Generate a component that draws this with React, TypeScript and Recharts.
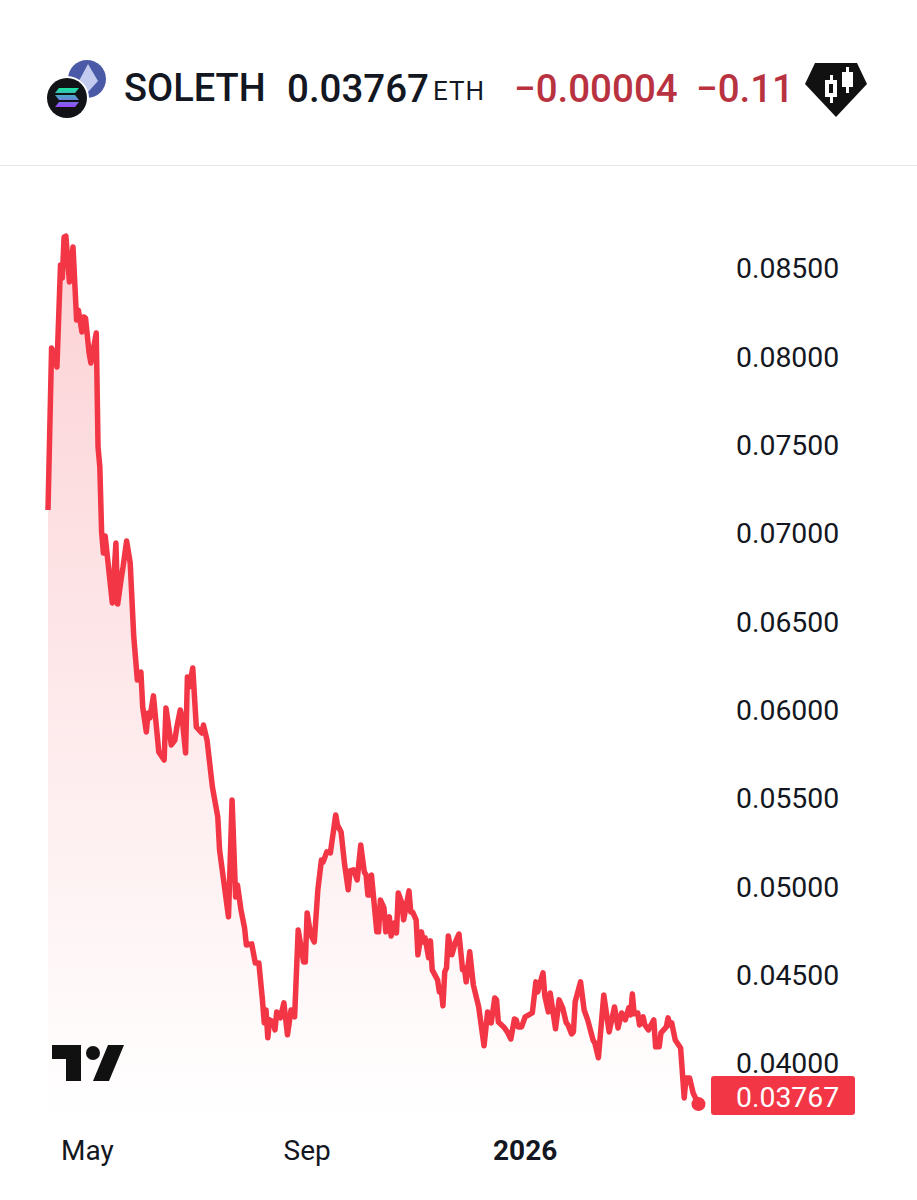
import { AreaChart, Area, XAxis, YAxis, ReferenceDot } from 'recharts';

// days since the first point on the chart
const days = [
  0, 2, 3, 5, 7, 8, 9, 10, 12, 14, 16, 17, 19, 20, 21, 23, 24, 27, 28, 29, 30, 31, 32, 36, 38, 39, 41, 42, 44, 46,
  48, 50, 52, 53, 55, 56, 57, 59, 61, 62, 65, 66, 69, 71, 72, 74, 75, 77, 78, 79, 81, 83, 86, 87, 89, 92, 95, 96, 101, 103,
  105, 106, 108, 110, 111, 114, 116, 118, 120, 121, 122, 123, 124, 126, 127, 128, 130, 132, 134, 136, 138, 140, 143, 144, 145, 147, 149, 151, 153, 154,
  156, 158, 161, 162, 164, 166, 168, 169, 171, 173, 175, 177, 178, 179, 180, 181, 184, 185, 186, 188, 189, 191, 192, 194, 195, 196, 198, 199, 202, 203,
  204, 206, 207, 209, 210, 211, 213, 214, 215, 218, 219, 220, 221, 222, 223, 224, 226, 228, 230, 232, 233, 234, 236, 238, 241, 244, 246, 248, 250, 251,
  252, 255, 257, 259, 261, 262, 263, 265, 267, 271, 273, 274, 277, 278, 280, 281, 284, 286, 288, 290, 291, 293, 294, 295, 298, 300, 302, 305, 306, 308,
  311, 314, 317, 319, 321, 323, 325, 326, 327, 328, 330, 331, 333, 334, 336, 339, 340, 342, 343, 346, 347, 348, 349, 351, 354, 356, 357, 359, 361, 364,
];

const prices = [
  0.0713, 0.08047, 0.08019, 0.0794, 0.08517, 0.08443, 0.08675, 0.08681, 0.08421, 0.08619, 0.08206, 0.08262, 0.08138, 0.08223, 0.08217, 0.08019, 0.07962, 0.08132, 0.07487, 0.07374, 0.07006, 0.06887, 0.06983, 0.06604, 0.06943, 0.06598, 0.06745, 0.06808, 0.06955, 0.0683,
  0.06411, 0.06168, 0.06213, 0.06015, 0.05874, 0.05981, 0.05953, 0.06078, 0.05868, 0.05761, 0.05715, 0.0601, 0.058, 0.05828, 0.05896, 0.05998, 0.05959, 0.05755, 0.06185, 0.06128, 0.06236, 0.05902, 0.05868, 0.05913, 0.05828, 0.05562, 0.05393, 0.05206, 0.04827, 0.05489,
  0.0494, 0.05008, 0.04866, 0.04764, 0.04668, 0.04674, 0.04566, 0.04566, 0.04357, 0.04227, 0.043, 0.04142, 0.04244, 0.04232, 0.04187, 0.04289, 0.04255, 0.0434, 0.04159, 0.043, 0.04261, 0.04753, 0.04572, 0.04572, 0.04849, 0.04725, 0.04685, 0.0498, 0.05149, 0.05138,
  0.05195, 0.05189, 0.05404, 0.05347, 0.05308, 0.05121, 0.0498, 0.05087, 0.05093, 0.05036, 0.05234, 0.05081, 0.05064, 0.04951, 0.04951, 0.05064, 0.04742, 0.04742, 0.04923, 0.04878, 0.04742, 0.04827, 0.04719, 0.04793, 0.04736, 0.04962, 0.04906, 0.0481, 0.04974, 0.04855,
  0.04855, 0.0481, 0.04612, 0.04742, 0.04685, 0.04708, 0.04595, 0.04691, 0.04527, 0.0447, 0.04402, 0.04425, 0.04323, 0.04515, 0.04538, 0.04719, 0.04612, 0.04685, 0.0473, 0.04527, 0.04538, 0.04459, 0.04629, 0.04442, 0.04317, 0.04097, 0.04289, 0.04227, 0.04368, 0.04357,
  0.04232, 0.04204, 0.04176, 0.04136, 0.04249, 0.04244, 0.04204, 0.04204, 0.04261, 0.04283, 0.04459, 0.04402, 0.0451, 0.0438, 0.04289, 0.04396, 0.04193, 0.04357, 0.04312, 0.04227, 0.04215, 0.04164, 0.04176, 0.04346, 0.04459, 0.043, 0.04244, 0.0413, 0.04113, 0.04029,
  0.04385, 0.04176, 0.04317, 0.04198, 0.04283, 0.04244, 0.04312, 0.04272, 0.04391, 0.04278, 0.04283, 0.04215, 0.04261, 0.04215, 0.04187, 0.04244, 0.04091, 0.04091, 0.0417, 0.04204, 0.04255, 0.04215, 0.04227, 0.0413, 0.04085, 0.03802, 0.03915, 0.03915, 0.0383, 0.03767,
];

const priceTicks = [0.04, 0.045, 0.05, 0.055, 0.06, 0.065, 0.07, 0.075, 0.08, 0.085];
const lastPrice = 0.03767;
const timeTicks = [22, 145, 267];
const timeLabels = ['May', 'Sep', '2026'];

const data = days.map((day, i) => ({ day, price: prices[i] }));

const RED = '#f23645';
const FONT = 'Roboto, sans-serif';

const PriceTick = ({ x, y, payload }: any) => {
  if (payload.value === lastPrice) {
    return (
      <g>
        <rect x={x - 25} y={y - 28} width={144} height={39} rx={3} fill={RED} />
        <text x={x} y={y - 7} dy=".36em" fontSize={28.4} fontFamily={FONT} fill="#fff">
          {lastPrice.toFixed(5)}
        </text>
      </g>
    );
  }
  return (
    <text x={x} y={y} dy=".36em" fontSize={28.4} fontFamily={FONT} fill="#131722">
      {payload.value.toFixed(5)}
    </text>
  );
};

const TimeTick = ({ x, y, payload }: any) => {
  const label = timeLabels[timeTicks.indexOf(payload.value)];
  return (
    <text
      x={x}
      y={y}
      dy=".36em"
      textAnchor="middle"
      fontSize={28}
      fontFamily={FONT}
      fontWeight={label === '2026' ? 700 : 400}
      fill="#131722"
    >
      {label}
    </text>
  );
};

const Header = () => (
  <div style={{ position: 'absolute', left: 0, top: 0, width: 917, height: 166, borderBottom: '1px solid #e6e6e6', boxSizing: 'border-box', fontFamily: FONT, whiteSpace: 'nowrap' }}>
    <svg width={917} height={166} style={{ position: 'absolute', left: 0, top: 0 }}>
      <defs>
        <linearGradient id="sol" gradientUnits="userSpaceOnUse" x1="0" y1="88" x2="0" y2="107">
          <stop offset="0%" stopColor="#19e6a0" />
          <stop offset="100%" stopColor="#9945ff" />
        </linearGradient>
      </defs>
      <circle cx={87} cy={79} r={19} fill="#4a5aa6" />
      <polygon points="88,64 98,81 88,92 79,81" fill="#c3ccee" />
      <circle cx={67} cy={98} r={22} fill="#fff" />
      <circle cx={67} cy={98} r={20} fill="#111316" />
      <polygon points="59,88 79,88 75,93 55,93" fill="url(#sol)" />
      <polygon points="55,95 75,95 79,100 59,100" fill="url(#sol)" />
      <polygon points="59,102 79,102 75,107 55,107" fill="url(#sol)" />
      <polygon points="815,63 857,63 867,84 836,117 805,84" fill="#111" />
      <rect x={830} y={75} width={3} height={28} fill="#fff" />
      <rect x={825} y={80} width={12} height={17} fill="#fff" />
      <rect x={829} y={84} width={4} height={9} fill="#111" />
      <rect x={846} y={67} width={3} height={26} fill="#fff" />
      <rect x={842} y={72} width={11} height={15} fill="#fff" />
    </svg>
    <span style={{ position: 'absolute', left: 124, top: 66, fontSize: 38, fontWeight: 500, color: '#131722' }}>SOLETH</span>
    <span style={{ position: 'absolute', left: 287, top: 66, fontSize: 38.5, fontWeight: 500, color: '#131722' }}>0.03767</span>
    <span style={{ position: 'absolute', left: 433, top: 76, fontSize: 26, letterSpacing: 1, color: '#131722' }}>ETH</span>
    <span style={{ position: 'absolute', left: 514, top: 66, fontSize: 38.5, fontWeight: 500, color: '#b8323f' }}>−0.00004</span>
    <span style={{ position: 'absolute', left: 696, top: 66, fontSize: 38.5, fontWeight: 500, color: '#b8323f' }}>−0.11</span>
  </div>
);

const Watermark = () => (
  <svg width={80} height={40} style={{ position: 'absolute', left: 48, top: 1043 }}>
    <polygon points="4,2 33,2 33,38 18,38 18,16 4,16" fill="#111" />
    <circle cx={45} cy={10} r={7} fill="#111" />
    <polygon points="60,2 76,2 61,38 45,38" fill="#111" />
  </svg>
);

const App = () => (
  <div style={{ position: 'absolute', left: 0, top: 0, width: 917, height: 1200, background: '#fff', overflow: 'hidden' }}>
    <Header />
    <div style={{ position: 'absolute', left: 0, top: 0 }}>
      <AreaChart width={917} height={1200} data={data} margin={{ top: 220, right: 0, bottom: 0, left: 48 }}>
        <defs>
          <linearGradient id="fade" x1="0" y1="0" x2="0" y2="1">
            <stop offset="0%" stopColor={RED} stopOpacity={0.38} />
            <stop offset="100%" stopColor={RED} stopOpacity={0} />
          </linearGradient>
        </defs>
        <XAxis
          dataKey="day"
          type="number"
          domain={[0, 371]}
          ticks={timeTicks}
          interval={0}
          height={80}
          axisLine={false}
          tickLine={false}
          tickSize={0}
          tickMargin={30}
          tick={<TimeTick />}
        />
        <YAxis
          orientation="right"
          domain={[0.03677, 0.08772]}
          ticks={[...priceTicks, lastPrice]}
          interval={0}
          width={206}
          axisLine={false}
          tickLine={false}
          tickSize={0}
          tickMargin={25}
          tick={<PriceTick />}
        />
        <Area
          type="linear"
          dataKey="price"
          stroke={RED}
          strokeWidth={5.5}
          strokeLinejoin="round"
          fill="url(#fade)"
          isAnimationActive={false}
          dot={false}
          activeDot={false}
        />
        <ReferenceDot x={days[days.length - 1]} y={lastPrice} r={7} fill={RED} stroke="none" />
      </AreaChart>
    </div>
    <Watermark />
  </div>
);

export default App;
